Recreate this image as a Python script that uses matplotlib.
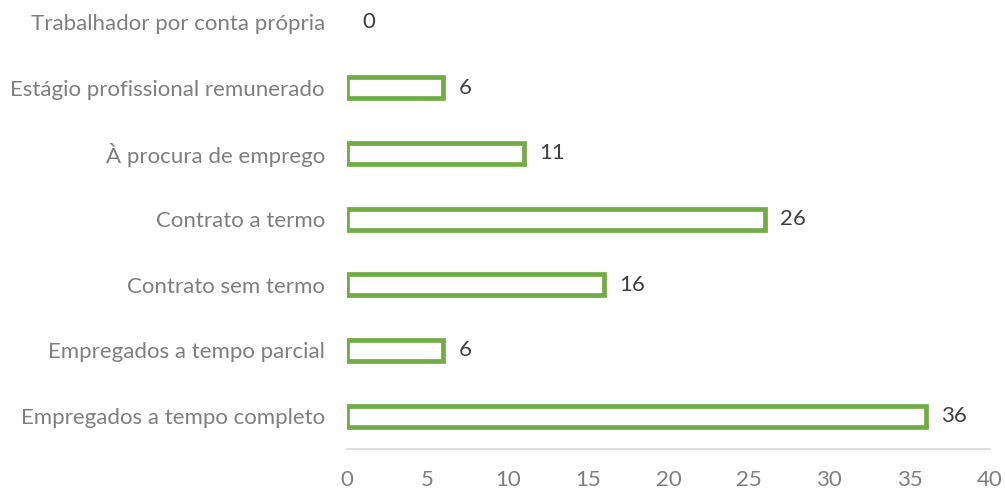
import matplotlib.pyplot as plt

categories = [
    "Empregados a tempo completo",
    "Empregados a tempo parcial",
    "Contrato sem termo",
    "Contrato a termo",
    "À procura de emprego",
    "Estágio profissional remunerado",
    "Trabalhador por conta própria",
]
values = [36, 6, 16, 26, 11, 6, 0]
x_ticks = [0, 5, 10, 15, 20, 25, 30, 35, 40]

plt.rcParams["font.family"] = ["Lato", "DejaVu Sans"]

fig = plt.figure(figsize=(10.05, 4.92), dpi=100)
ax = fig.add_axes([347 / 1005, 43 / 492, (990 - 347) / 1005, 449 / 492])

pos = list(range(len(categories)))
widths = [3.4 if v > 0 else 0 for v in values]
ax.barh(pos, values, height=0.32, color="white",
        edgecolor="#70AD47", linewidth=widths)

for y, v in zip(pos, values):
    ax.annotate(str(v), xy=(v, y), xytext=(11, 0), textcoords="offset points",
                va="center", ha="left", fontsize=16, color="#404040")

ax.set_xlim(0, 40)
ax.set_ylim(-0.5, 6.335)
ax.set_yticks(pos)
ax.set_yticklabels(categories)
ax.set_xticks(x_ticks)

for side in ["top", "right", "left"]:
    ax.spines[side].set_visible(False)
ax.spines["bottom"].set_color("#D9D9D9")
ax.spines["bottom"].set_linewidth(1.2)

ax.tick_params(axis="y", length=0, pad=16, labelsize=16, labelcolor="#7F7F7F")
ax.tick_params(axis="x", length=0, pad=15, labelsize=16, labelcolor="#7F7F7F")

fig.savefig("out.png", dpi=100)
